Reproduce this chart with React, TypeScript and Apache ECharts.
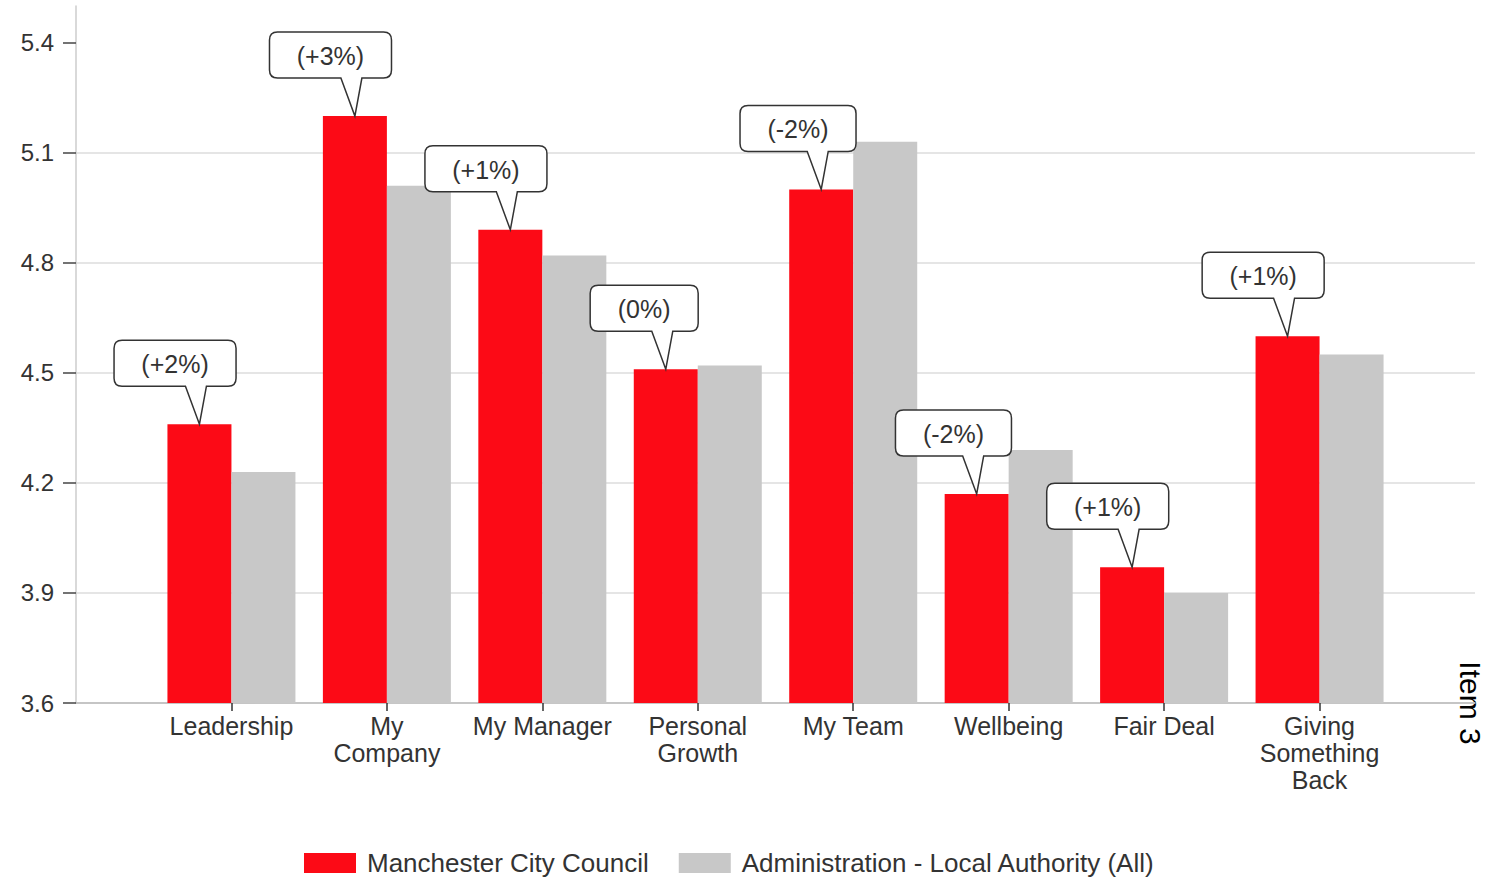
import React, { useEffect, useRef } from 'react';
import * as echarts from 'echarts';

const CATEGORIES = ['Leadership', 'My\nCompany', 'My Manager', 'Personal\nGrowth', 'My Team', 'Wellbeing', 'Fair Deal', 'Giving\nSomething\nBack'];
const MCC = [4.36, 5.2, 4.89, 4.51, 5.0, 4.17, 3.97, 4.6];
const ADMIN = [4.23, 5.01, 4.82, 4.52, 5.13, 4.29, 3.9, 4.55];
const CHANGES = ['(+2%)', '(+3%)', '(+1%)', '(0%)', '(-2%)', '(-2%)', '(+1%)', '(+1%)'];
const Y_TICKS = [3.6, 3.9, 4.2, 4.5, 4.8, 5.1, 5.4];
const SERIES_NAMES = ['Manchester City Council', 'Administration - Local Authority (All)'];

const FONT = '"Liberation Sans", Arial, sans-serif';
const BAR_W = 64;
const RED = '#FC0A16';
const GREY = '#C8C8C8';
const CALLOUT_FS = 25;

export default function App() {
  const ref = useRef<HTMLDivElement>(null);
  useEffect(() => {
    const chart = echarts.init(ref.current!, null, { renderer: 'svg' });
    const ctx = document.createElement('canvas').getContext('2d')!;
    ctx.font = `${CALLOUT_FS}px ${FONT}`;
    const positions = CATEGORIES.map((_, i) => i + 1);
    const option: any = {
      animation: false,
      backgroundColor: '#fff',
      textStyle: { fontFamily: FONT },
      grid: { left: 76, right: 16, top: 6, bottom: 176 },
      legend: {
        left: 304,
        top: 849,
        padding: 0,
        itemWidth: 52,
        itemHeight: 20,
        itemGap: 30,
        icon: 'rect',
        textStyle: { fontSize: 26, lineHeight: 28, color: '#333', fontFamily: FONT, padding: [0, 0, 0, 6] },
        data: SERIES_NAMES,
      },
      xAxis: {
        type: 'value',
        min: 0,
        max: 9,
        axisLine: { show: true, lineStyle: { color: '#BBBBBB', width: 1.5 } },
        axisTick: { show: true, length: 8, customValues: positions, lineStyle: { color: '#333', width: 1.5 } },
        axisLabel: {
          customValues: positions,
          formatter: (v: number) => CATEGORIES[Math.round(v) - 1] ?? '',
          fontSize: 25,
          lineHeight: 27,
          color: '#333',
          margin: 9,
          align: 'center',
        },
        splitLine: { show: false },
      },
      yAxis: {
        type: 'value',
        min: 3.6,
        max: 5.5,
        interval: 0.3,
        axisLine: { show: true, lineStyle: { color: '#CCCCCC', width: 1.5 } },
        axisTick: { show: true, length: 13, customValues: Y_TICKS, lineStyle: { color: '#444', width: 1.5 } },
        axisLabel: {
          customValues: Y_TICKS,
          formatter: (v: number) => v.toFixed(1),
          fontSize: 24,
          color: '#333',
          margin: 22,
        },
        splitLine: { show: true, showMaxLine: false, lineStyle: { color: '#DDDDDD', width: 1.5 } },
      },
      series: [
        {
          name: SERIES_NAMES[0],
          type: 'bar',
          barWidth: BAR_W,
          barGap: '0%',
          itemStyle: { color: RED },
          data: MCC.map((v, i) => [positions[i], v]),
        },
        {
          name: SERIES_NAMES[1],
          type: 'bar',
          barWidth: BAR_W,
          barGap: '0%',
          itemStyle: { color: GREY },
          data: ADMIN.map((v, i) => [positions[i], v]),
        },
        {
          type: 'custom',
          z: 10,
          clip: false,
          data: MCC.map((v, i) => [positions[i], v]),
          renderItem: (params: any, api: any) => {
            const i = params.dataIndex;
            const p = api.coord([api.value(0), api.value(1)]);
            const tx = p[0] - BAR_W / 2;
            const ty = p[1];
            const label = CHANGES[i];
            const w = Math.round(ctx.measureText(label).width) + 55;
            const h = 46;
            const L = tx - 0.7 * w;
            const R = L + w;
            const B = ty - 38;
            const T = B - h;
            const r = 8;
            const d = `M${L + r} ${T} L${R - r} ${T} Q${R} ${T} ${R} ${T + r} L${R} ${B - r} Q${R} ${B} ${R - r} ${B} L${tx + 7} ${B} L${tx} ${ty} L${tx - 14} ${B} L${L + r} ${B} Q${L} ${B} ${L} ${B - r} L${L} ${T + r} Q${L} ${T} ${L + r} ${T} Z`;
            return {
              type: 'group',
              children: [
                { type: 'path', shape: { pathData: d }, style: { fill: '#fff', stroke: '#333', lineWidth: 1.5 } },
                {
                  type: 'text',
                  style: {
                    text: label,
                    x: (L + R) / 2,
                    y: (T + B) / 2 + 1,
                    align: 'center',
                    verticalAlign: 'middle',
                    fontSize: CALLOUT_FS,
                    fontFamily: FONT,
                    fill: '#333',
                  },
                },
              ],
            };
          },
        },
      ],
      graphic: [
        {
          type: 'text',
          x: 1470,
          y: 703,
          rotation: -Math.PI / 2,
          style: { text: 'Item 3', fontSize: 30, fontFamily: FONT, fill: '#000', align: 'center', verticalAlign: 'middle' },
        },
      ],
    };
    chart.setOption(option);
    return () => chart.dispose();
  }, []);
  return <div ref={ref} style={{ position: 'fixed', left: 0, top: 0, width: 1491, height: 879, background: '#fff' }} />;
}
